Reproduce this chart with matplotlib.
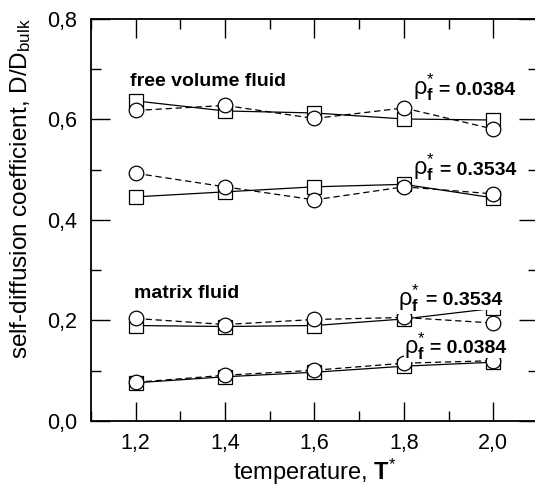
import matplotlib
matplotlib.use("Agg")
import matplotlib.pyplot as plt
from matplotlib.ticker import MultipleLocator

plt.rcParams['font.family'] = ['Liberation Sans', 'DejaVu Sans']
plt.rcParams['mathtext.fontset'] = 'custom'
plt.rcParams['mathtext.rm'] = 'Liberation Sans'
plt.rcParams['mathtext.it'] = 'Liberation Sans:italic'
plt.rcParams['mathtext.bf'] = 'Liberation Sans:bold'

# temperature T*
T = [1.2, 1.4, 1.6, 1.8, 2.0]

# free volume fluid
fv_0384_sq = [0.637, 0.617, 0.613, 0.601, 0.599]
fv_0384_ci = [0.618, 0.628, 0.602, 0.623, 0.581]
fv_3534_sq = [0.446, 0.456, 0.466, 0.471, 0.444]
fv_3534_ci = [0.493, 0.466, 0.440, 0.466, 0.452]

# matrix fluid
mf_3534_sq = [0.190, 0.188, 0.190, 0.203, 0.224]
mf_3534_ci = [0.204, 0.192, 0.202, 0.206, 0.195]
mf_0384_sq = [0.076, 0.088, 0.097, 0.109, 0.117]
mf_0384_ci = [0.077, 0.091, 0.101, 0.115, 0.120]

fig = plt.figure(figsize=(5.35, 4.91), dpi=100)
ax = fig.add_axes([0.170, 0.1426, 0.8355, 0.8187])

sq = dict(color='black', lw=0.9, ls='-', marker='s', ms=10, mfc='white',
          mec='black', mew=0.9)
ci = dict(color='black', lw=0.9, ls=(0, (5, 3)), marker='o', ms=10.5,
          mfc='white', mec='black', mew=0.9)

for ys in [fv_0384_sq, fv_3534_sq, mf_3534_sq, mf_0384_sq]:
    ax.plot(T, ys, zorder=2, **sq)
for ys in [fv_0384_ci, fv_3534_ci, mf_3534_ci, mf_0384_ci]:
    ax.plot(T, ys, zorder=3, **ci)

ax.set_xlim(1.1, 2.1)
ax.set_ylim(0.0, 0.8)
ax.xaxis.set_major_locator(MultipleLocator(0.2))
ax.xaxis.set_minor_locator(MultipleLocator(0.1))
ax.yaxis.set_major_locator(MultipleLocator(0.2))
ax.yaxis.set_minor_locator(MultipleLocator(0.1))
fmt = lambda v, p: f"{v:.1f}".replace('.', ',')
ax.xaxis.set_major_formatter(fmt)
ax.yaxis.set_major_formatter(fmt)

for s in ax.spines.values():
    s.set_linewidth(1.3)
ax.tick_params(which='major', direction='in', length=14, width=1.0,
               labelsize=15.5, top=True, right=True)
ax.tick_params(which='minor', direction='in', length=7, width=1.0,
               top=True, right=True)
ax.tick_params(axis='x', which='both', pad=9)
ax.tick_params(axis='y', which='both', pad=10)

ax.set_xlabel(r'temperature, $\mathbf{T}^{*}$', fontsize=17, labelpad=2)
ax.set_ylabel(r'self-diffusion coefficient, D/D$_{\mathrm{bulk}}$', fontsize=17.5)
ax.yaxis.set_label_coords(-0.13, 0.577)

box = dict(facecolor='white', edgecolor='none', pad=0.5)

ax.text(1.187, 0.667, 'free volume fluid', fontsize=14, fontweight='bold',
        ha='left', va='baseline', zorder=5)
ax.text(1.196, 0.244, 'matrix fluid', fontsize=14, fontweight='bold',
        ha='left', va='baseline', zorder=5)

labels = [
    (1.821, 1.879, 0.649, '= 0.0384'),
    (1.820, 1.880, 0.490, '= 0.3534'),
    (1.787, 1.850, 0.231, '= 0.3534'),
    (1.801, 1.859, 0.135, '= 0.0384'),
]
for xr, xe, yb, txt in labels:
    ax.text(xe, yb, txt, fontsize=14, fontweight='bold',
            ha='left', va='baseline', bbox=box, zorder=5)
    ax.text(xr, yb, r'$\mathrm{\rho}^{*}_{\mathbf{f}}$', fontsize=17,
            ha='left', va='baseline', bbox=box, zorder=5)

fig.savefig('out.png', dpi=100)
